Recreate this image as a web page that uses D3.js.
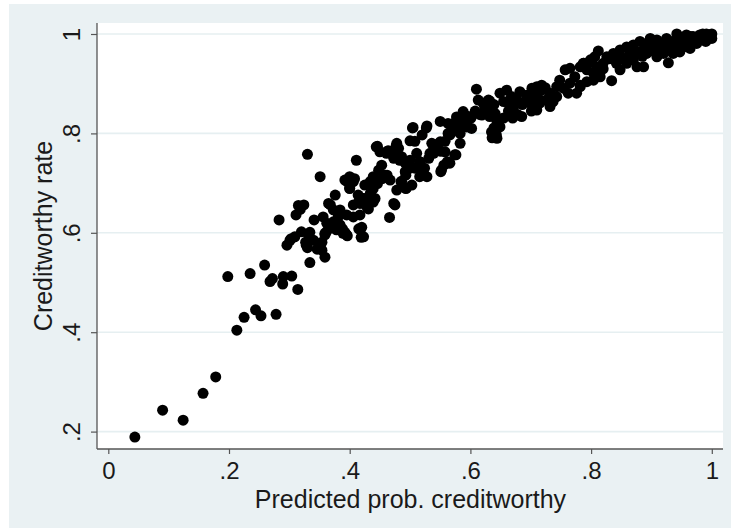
<!DOCTYPE html>
<html><head><meta charset="utf-8">
<script src="https://cdn.jsdelivr.net/npm/d3@7"></script>
<style>body{margin:0;background:#fff}svg{display:block}text{font-family:"Liberation Sans",Arial,sans-serif;fill:#1a1a1a}</style>
</head><body>
<script>
// ---- data ----
const xTicks = [0, 0.2, 0.4, 0.6, 0.8, 1];
const xTickLabels = ["0", ".2", ".4", ".6", ".8", "1"];
const yTicks = [0.2, 0.4, 0.6, 0.8, 1];
const yTickLabels = [".2", ".4", ".6", ".8", "1"];
const xTitle = "Predicted prob. creditworthy";
const yTitle = "Creditworthy rate";
const predProb = [
.044,.090,.124,.157,.178,.213,.225,.244,.253,.278,.198,.235,.259,.268,.272,.289,.290,.304,.314,.334,
.283,.296,.301,.309,.311,.318,.324,.320,.328,.332,.340,.341,.351,.354,.359,.365,.376,.359,.367,.373,
.381,.330,.315,.334,.327,.330,.303,.354,.346,.361,.369,.377,.396,.392,.388,.415,.419,.396,.408,.400,
.411,.446,.462,.473,.481,.473,.466,.431,.439,.423,.415,.439,.446,.454,.462,.485,.493,.500,.493,.504,
.508,.520,.527,.516,.524,.531,.539,.543,.551,.558,.566,.574,.581,.551,.556,.562,.576,.593,.601,.608,
.616,.624,.632,.639,.639,.647,.655,.643,.636,.663,.670,.678,.686,.693,.701,.709,.717,.724,.678,.670,
.701,.709,.717,.444,.477,.464,.505,.528,.500,.550,.563,.577,.588,.453,.448,.459,.467,.434,.425,.439,
.392,.400,.406,.400,.368,.373,.384,.414,.423,.434,.442,.428,.417,.406,.417,.406,.395,.475,.420,.423,
.384,.378,.389,.395,.356,.362,.367,.359,.486,.494,.503,.478,.486,.492,.500,.511,.516,.508,.522,.516,
.528,.536,.544,.533,.550,.558,.561,.552,.574,.569,.583,.594,.597,.583,.563,.472,.483,.492,.450,.461,
.478,.610,.613,.621,.630,.627,.619,.632,.641,.644,.649,.635,.644,.588,.583,.572,.594,.602,.566,.577,
.566,.649,.660,.668,.655,.663,.677,.682,.671,.677,.685,.693,.702,.710,.718,.704,.699,.710,.715,.726,
.732,.737,.743,.732,.743,.748,.757,.765,.773,.782,.787,.798,.806,.809,.804,.793,.782,.765,.754,.762,
.776,.812,.834,.782,.928,.876,.887,.788,.799,.793,.804,.809,.820,.826,.815,.837,.842,.848,.853,.859,
.864,.870,.881,.887,.892,.898,.903,.909,.914,.920,.925,.931,.936,.942,.947,.953,.958,.964,.969,.975,
.980,.986,.991,.997,1.000,1.000,.848,.859,.870,.892,.909,.920,.936,.947,.964,.820,.830,.845,.860,.875,
.885,.895,.905,.915,.930,.940,.955,.965,.975,.985,.990
];
const rate = [
.189,.243,.223,.277,.310,.404,.430,.445,.433,.436,.512,.518,.535,.502,.508,.497,.512,.513,.486,.540,
.626,.575,.585,.592,.636,.647,.656,.602,.575,.596,.585,.626,.713,.565,.551,.659,.676,.596,.609,.622,
.632,.758,.655,.601,.581,.570,.588,.581,.567,.601,.614,.621,.594,.601,.608,.608,.591,.703,.709,.689,
.746,.774,.764,.750,.770,.659,.631,.648,.662,.669,.662,.689,.699,.709,.716,.703,.716,.730,.689,.811,
.784,.797,.811,.743,.730,.750,.760,.777,.764,.784,.797,.811,.818,.723,.736,.743,.757,.818,.831,.845,
.838,.852,.865,.858,.811,.818,.831,.797,.791,.845,.852,.838,.858,.865,.872,.879,.886,.892,.865,.831,
.845,.852,.865,.773,.775,.765,.812,.815,.785,.824,.820,.833,.837,.736,.726,.716,.706,.703,.696,.713,
.706,.713,.703,.690,.656,.646,.646,.676,.669,.679,.669,.653,.659,.656,.636,.632,.636,.656,.611,.592,
.616,.606,.599,.596,.632,.619,.612,.599,.703,.690,.696,.686,.753,.740,.746,.760,.743,.730,.726,.713,
.713,.780,.767,.760,.783,.763,.740,.726,.757,.807,.800,.813,.834,.780,.800,.763,.746,.723,.763,.760,
.780,.889,.867,.861,.867,.847,.837,.834,.840,.824,.813,.803,.790,.844,.830,.820,.824,.810,.800,.807,
.740,.881,.887,.874,.864,.861,.867,.884,.850,.837,.834,.877,.891,.894,.897,.874,.861,.847,.861,.867,
.881,.864,.874,.854,.894,.907,.928,.931,.914,.934,.941,.944,.954,.921,.907,.904,.894,.901,.891,.881,
.881,.966,.906,.897,.942,.934,.934,.941,.948,.928,.921,.934,.941,.954,.914,.961,.941,.968,.951,.974,
.961,.978,.985,.968,.981,.991,.974,.988,.964,.981,.991,.974,.985,1.000,.991,.974,.998,.988,.995,.981,
.998,.991,1.000,.998,1.000,.991,.928,.941,.948,.961,.954,.961,.961,.964,.971,.930,.950,.955,.950,.965,
.955,.975,.965,.975,.985,.975,.985,.995,.990,1.000,.985
];

// ---- layout ----
const W = 731, H = 528;
const svg = d3.select("body").append("svg").attr("width", W).attr("height", H);
svg.append("rect").attr("x", 9).attr("y", 4).attr("width", W - 9).attr("height", H - 4).attr("fill", "#eaf1f3");
const P = {l: 97, r: 723, t: 23, b: 449};
svg.append("rect").attr("x", P.l).attr("y", P.t).attr("width", P.r - P.l).attr("height", P.b - P.t).attr("fill", "#fff");

const x = d3.scaleLinear().domain([0, 1]).range([108.3, 711.8]);
const y = d3.scaleLinear().domain([0.2, 1]).range([431.6, 34]);

// gridlines
svg.append("g").selectAll("line").data(yTicks).join("line")
  .attr("x1", P.l).attr("x2", P.r).attr("y1", d => y(d)).attr("y2", d => y(d))
  .attr("stroke", "#e6eff1").attr("stroke-width", 1.6);

// points
svg.append("g").selectAll("circle").data(predProb.map((p, i) => [p, rate[i]])).join("circle")
  .attr("cx", d => x(d[0])).attr("cy", d => y(d[1])).attr("r", 5.5).attr("fill", "#000");

// axes
const xAxis = d3.axisBottom(x).tickValues(xTicks).tickFormat((d, i) => xTickLabels[i]).tickSize(5).tickSizeOuter(0);
const gx = svg.append("g").attr("transform", `translate(0,${P.b})`).call(xAxis);
gx.select(".domain").remove();
gx.selectAll(".tick line").attr("stroke", "#555").attr("stroke-width", 1.2);
gx.selectAll(".tick text").attr("y", 30).attr("dy", 0).attr("font-size", 24)
  .attr("font-family", '"Liberation Sans",Arial,sans-serif').attr("fill", "#1a1a1a");

const yAxis = d3.axisLeft(y).tickValues(yTicks).tickFormat((d, i) => yTickLabels[i]).tickSize(6).tickSizeOuter(0);
const gy = svg.append("g").attr("transform", `translate(${P.l},0)`).call(yAxis);
gy.select(".domain").remove();
gy.selectAll(".tick line").attr("stroke", "#555").attr("stroke-width", 1.2);
gy.selectAll(".tick text").attr("x", null).attr("dy", 0).attr("text-anchor", "middle")
  .attr("transform", "translate(-17,0) rotate(-90)").attr("font-size", 24)
  .attr("font-family", '"Liberation Sans",Arial,sans-serif').attr("fill", "#1a1a1a");

svg.append("line").attr("x1", P.l).attr("x2", P.r).attr("y1", P.b).attr("y2", P.b).attr("stroke", "#555").attr("stroke-width", 1.3);
svg.append("line").attr("x1", P.l).attr("x2", P.l).attr("y1", P.t).attr("y2", P.b).attr("stroke", "#555").attr("stroke-width", 1.3);

// titles
svg.append("text").attr("x", 410.5).attr("y", 507.5).attr("text-anchor", "middle").attr("font-size", 25).text(xTitle);
svg.append("text").attr("transform", "translate(51.5,236) rotate(-90)").attr("text-anchor", "middle").attr("font-size", 25).text(yTitle);
</script>
</body></html>
